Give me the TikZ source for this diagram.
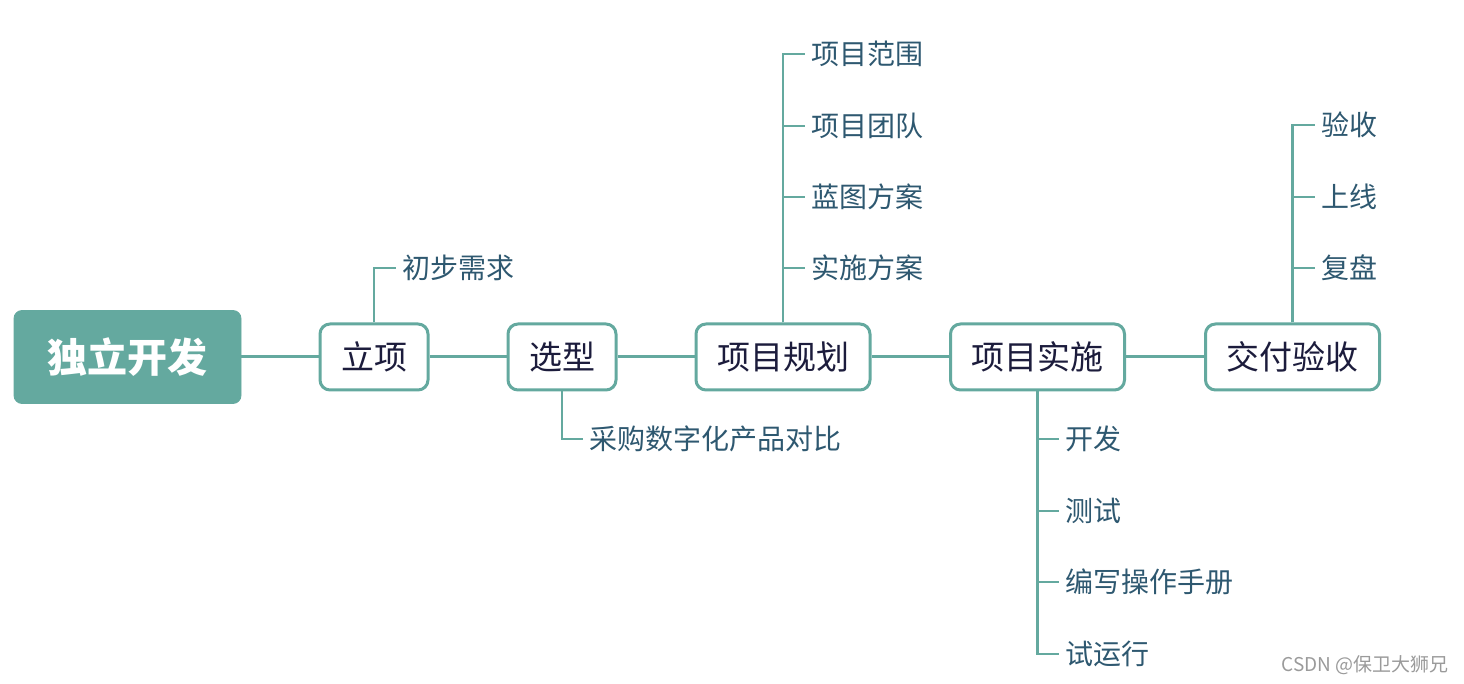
\documentclass[tikz,border=0pt]{standalone}
\usepackage{fontspec}
\setmainfont{Noto Sans CJK SC}
\newfontfamily\cjk{Noto Sans CJK SC}
\definecolor{teal1}{HTML}{64A99F}
\definecolor{leaftxt}{HTML}{2E5870}
\definecolor{boxtxt}{HTML}{1C1C3C}
\definecolor{wm}{HTML}{9A9A9A}
\tikzset{
  rootbox/.style={fill=teal1, draw=teal1, rounded corners=4pt, minimum width=113.5pt, minimum height=46.5pt, text=white, font=\cjk\bfseries\fontsize{20}{24}\selectfont, inner sep=0pt},
  topic/.style={draw=teal1, line width=1.5pt, fill=white, rounded corners=5pt, minimum height=33pt, inner sep=0pt, text=boxtxt, font=\cjk\fontsize{16.5}{20}\selectfont},
  leaf/.style={anchor=west, inner xsep=3pt, inner ysep=0pt, text=leaftxt, font=\cjk\fontsize{14}{16}\selectfont},
  link/.style={draw=teal1, line width=1.5pt},
  twig/.style={draw=teal1, line width=1.2pt}
}
\begin{document}
\begin{tikzpicture}[x=0.5pt,y=-0.5pt]
\useasboundingbox (0,0) rectangle (1464,684);
\node[rootbox] (root) at (127.5,357) {独立开发};
\node[topic, minimum width=54pt] (lx) at (374,357) {立项};
\node[topic, minimum width=54pt] (xx) at (562,357) {选型};
\node[topic, minimum width=87pt] (gh) at (783,357) {项目规划};
\node[topic, minimum width=87pt] (ss) at (1037.5,357) {项目实施};
\node[topic, minimum width=87pt] (ys) at (1292.5,357) {交付验收};
\draw[link] (root.east) -- (lx.west);
\draw[link] (lx.east) -- (xx.west);
\draw[link] (xx.east) -- (gh.west);
\draw[link] (gh.east) -- (ss.west);
\draw[link] (ss.east) -- (ys.west);
% leaves
\node[leaf] (a1) at (396,268) {初步需求};
\node[leaf] (b1) at (583,439) {采购数字化产品对比};
\node[leaf] (c1) at (805,54) {项目范围};
\node[leaf] (c2) at (805,126) {项目团队};
\node[leaf] (c3) at (805,197) {蓝图方案};
\node[leaf] (c4) at (805,268) {实施方案};
\node[leaf] (d1) at (1059,439) {开发};
\node[leaf] (d2) at (1059,511) {测试};
\node[leaf] (d3) at (1059,582) {编写操作手册};
\node[leaf] (d4) at (1059,654) {试运行};
\node[leaf] (e1) at (1315,125) {验收};
\node[leaf] (e2) at (1315,197) {上线};
\node[leaf] (e3) at (1315,268) {复盘};
\draw[twig] (lx.north) |- (a1.west);
\draw[twig] (xx.south) |- (b1.west);
\foreach \n in {c1,c2,c3,c4} \draw[twig] (gh.north) |- (\n.west);
\foreach \n in {d1,d2,d3,d4} \draw[twig] (ss.south) |- (\n.west);
\foreach \n in {e1,e2,e3} \draw[twig] (ys.north) |- (\n.west);
\node[anchor=east, text=wm, font=\cjk\fontsize{9.5}{11}\selectfont, inner sep=0pt] (wmk) at (1449,665) {CSDN @保卫大狮兄};
\end{tikzpicture}
\end{document}
